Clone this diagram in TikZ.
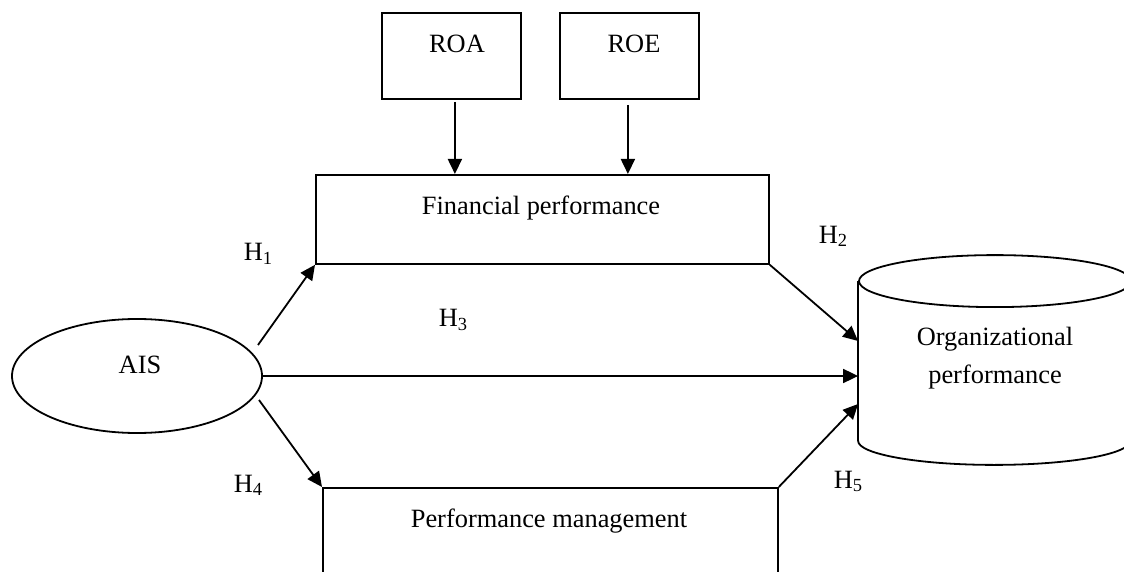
\documentclass[tikz,border=0pt]{standalone}
\usepackage{fontspec}
\setmainfont{Liberation Serif}
\usetikzlibrary{arrows.meta,shapes.geometric}
\begin{document}
\begin{tikzpicture}[x=0.5pt,y=-0.5pt,
  line width=0.9pt,
  box/.style={draw, rectangle, inner sep=0pt, anchor=north west},
  txt/.style={inner sep=0pt, anchor=base, font=\fontsize{13.2pt}{19pt}\selectfont},
  hlab/.style={inner sep=0pt, anchor=base west, font=\fontsize{13.2pt}{19pt}\selectfont},
  arr/.style={-{Triangle[length=7.5pt,width=7pt]}}]
\useasboundingbox (0,0) rectangle (1124,572);
\clip (0,0) rectangle (1124,572);
% boxes
\node[box, minimum width=69.5pt, minimum height=43pt] (roa) at (381,12) {};
\node[box, minimum width=69.5pt, minimum height=43pt] (roe) at (559,12) {};
\node[box, minimum width=226.5pt, minimum height=44.5pt] (fp) at (315,174) {};
\node[box, minimum width=227.5pt, minimum height=66.5pt] (pm) at (322,487) {};
\node[draw, ellipse, inner sep=0pt, minimum width=125pt, minimum height=57pt] (ais) at (137,376) {};
% cylinder
\node[inner sep=0pt, minimum width=136pt, minimum height=79pt] (org) at (995,361) {};
\draw (org.north) ellipse [x radius=68pt, y radius=13pt];
\draw (org.north west) -- (org.south west);
\draw (org.north east) -- (org.south east);
\draw (org.south west) arc [start angle=180, end angle=360, x radius=68pt, y radius=12pt];
% texts
\node[txt] (troa) at (457,53) {ROA};
\node[txt] (troe) at (634,53) {ROE};
\node[txt] (tfp) at (541,215) {Financial performance};
\node[txt] (tpm) at (549,527) {Performance management};
\node[txt] (tais) at (140,373) {AIS};
\node[txt] (torg1) at (995,345) {Organizational};
\node[txt] (torg2) at (995,383) {performance};
% hypothesis labels
\node[hlab] (h1) at (243,261) {H\textsubscript{1}};
\node[hlab] (h2) at (818,243) {H\textsubscript{2}};
\node[hlab] (h3) at (438,327) {H\textsubscript{3}};
\node[hlab] (h4) at (233,492) {H\textsubscript{4}};
\node[hlab] (h5) at (833,488) {H\textsubscript{5}};
% connector ends
\coordinate (a1) at (258,345);
\coordinate (a3) at (259,400);
\coordinate (o1) at ([yshift=10pt]org.west);
\coordinate (o3) at ([yshift=-21.5pt]org.west);
% arrows
\draw[arr, shorten <=1pt] ([xshift=1.75pt]roa.south) -- ([xshift=1.75pt]roa.south |- fp.north);
\draw[arr, shorten <=2.5pt] ([xshift=-0.75pt]roe.south) -- ([xshift=-0.75pt]roe.south |- fp.north);
\draw[arr] (a1) -- (fp.south west);
\draw[arr] (ais.east) -- (ais.east -| org.west);
\draw[arr] (a3) -- (pm.north west);
\draw[arr] (fp.south east) -- (o1);
\draw[arr] (pm.north east) -- (o3);
\end{tikzpicture}
\end{document}
